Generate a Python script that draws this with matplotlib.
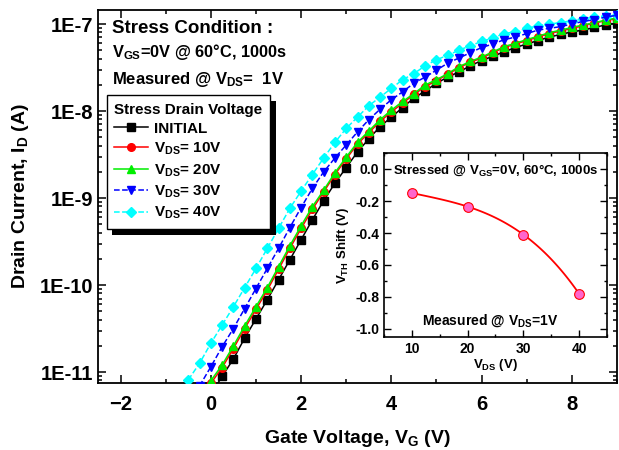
import numpy as np
import matplotlib
matplotlib.use("Agg")
import matplotlib.pyplot as plt
from matplotlib import patheffects
from matplotlib.ticker import FixedLocator, FixedFormatter, LogLocator, NullFormatter, MultipleLocator

plt.rcParams['font.family'] = ['Liberation Sans', 'DejaVu Sans']
plt.rcParams['font.weight'] = 'bold'
plt.rcParams['axes.labelweight'] = 'bold'
plt.rcParams['mathtext.fontset'] = 'custom'
plt.rcParams['mathtext.rm'] = 'Liberation Sans:bold'
plt.rcParams['mathtext.it'] = 'Liberation Sans:bold'
plt.rcParams['mathtext.bf'] = 'Liberation Sans:bold'

# gate sweep, -0.5 V .. 9 V in 0.25 V steps
vg = np.arange(-0.5, 9.01, 0.25)
nan = np.nan

# log10 of drain current
log_init = [nan, nan, -11.26, -11.05, -10.85, -10.61, -10.39, -10.17, -9.94, -9.71,
            -9.48, -9.25, -9.03, -8.83, -8.65, -8.47, -8.32, -8.18, -8.07, -7.96,
            -7.85, -7.77, -7.68, -7.61, -7.55, -7.48, -7.42, -7.37, -7.32, -7.27,
            -7.23, -7.19, -7.15, -7.12, -7.09, -7.07, -7.04, -7.01, -6.99]
log_10v = [nan, -11.35, -11.13, -10.95, -10.73, -10.50, -10.28, -10.06, -9.82, -9.58,
           -9.35, -9.13, -8.93, -8.73, -8.55, -8.38, -8.25, -8.12, -8.01, -7.91,
           -7.81, -7.72, -7.65, -7.58, -7.50, -7.44, -7.39, -7.33, -7.27, -7.23,
           -7.19, -7.15, -7.11, -7.08, -7.05, -7.02, -6.99, -6.96, -6.94]
log_20v = [nan, -11.32, -11.10, -10.92, -10.70, -10.47, -10.25, -10.03, -9.79, -9.55,
           -9.32, -9.10, -8.91, -8.71, -8.53, -8.36, -8.23, -8.10, -7.99, -7.89,
           -7.80, -7.70, -7.64, -7.57, -7.49, -7.43, -7.38, -7.32, -7.26, -7.22,
           -7.18, -7.14, -7.10, -7.07, -7.04, -7.01, -6.985, -6.955, -6.93]
log_30v = [nan, -11.16, -10.94, -10.71, -10.50, -10.27, -10.04, -9.81, -9.58, -9.34,
           -9.11, -8.89, -8.70, -8.54, -8.39, -8.24, -8.10, -7.98, -7.87, -7.78,
           -7.68, -7.61, -7.53, -7.45, -7.39, -7.33, -7.27, -7.23, -7.18, -7.15,
           -7.11, -7.07, -7.05, -7.03, -7.00, -6.97, -6.95, -6.92, -6.90]
log_40v = [-11.09, -10.90, -10.67, -10.46, -10.25, -10.03, -9.81, -9.58, -9.35, -9.12,
           -8.92, -8.73, -8.54, -8.36, -8.20, -8.07, -7.94, -7.84, -7.74, -7.64,
           -7.57, -7.48, -7.41, -7.36, -7.30, -7.25, -7.20, -7.16, -7.11, -7.09,
           -7.05, -7.02, -7.00, -6.985, -6.96, -6.94, -6.92, -6.91, -6.90]

labels = ['INITIAL', r'V$_{DS}$= 10V', r'V$_{DS}$= 20V', r'V$_{DS}$= 30V', r'V$_{DS}$= 40V']
colors = ['black', '#ff0000', '#00ee00', '#0000ff', '#00ffff']
markers = ['s', 'o', '^', 'v', 'D']
styles = ['-', '-', '-', '--', '--']
zorders = [2, 3, 4, 6, 5]

# inset: threshold voltage shift
vds = [10, 20, 30, 40]
vth_shift = [-0.15, -0.235, -0.41, -0.78]

fig = plt.figure(figsize=(6.19, 4.5), dpi=100)
ax = fig.add_axes([98 / 619, 1 - 383 / 450, 519 / 619, 373 / 450])

lines = []
for ys, c, m, ls, z, lab in zip([log_init, log_10v, log_20v, log_30v, log_40v],
                               colors, markers, styles, zorders, labels):
    ln, = ax.plot(vg, 10 ** np.array(ys), color=c, marker=m, linestyle=ls, lw=1.1,
                  markersize=5.5 if m != 'D' else 5, mec=c, mfc=c, zorder=z, label=lab)
    lines.append(ln)

ax.set_yscale('log')
ax.set_xlim(-2.5, 9)
ax.set_ylim(10 ** -11.126, 10 ** -6.839)
ax.yaxis.set_major_locator(FixedLocator([1e-11, 1e-10, 1e-9, 1e-8, 1e-7]))
ax.yaxis.set_major_formatter(FixedFormatter(['1E-11', '1E-10', '1E-9', '1E-8', '1E-7']))
ax.yaxis.set_minor_locator(LogLocator(base=10, subs=np.arange(2, 10)))
ax.yaxis.set_minor_formatter(NullFormatter())
ax.xaxis.set_major_locator(MultipleLocator(2))
ax.xaxis.set_minor_locator(MultipleLocator(1))
ax.tick_params(which='both', direction='in', top=True, right=True, width=1.1, labelsize=14.5)
ax.tick_params(which='major', length=6)
ax.tick_params(which='minor', length=3)
ax.tick_params(axis='x', which='major', pad=9)
for s in ax.spines.values():
    s.set_linewidth(1.3)

ax.set_xlabel(r'Gate Voltage, V$_G$ (V)', fontsize=14, labelpad=10)
ax.set_ylabel(r'Drain Current, I$_D$ (A)', fontsize=14, labelpad=6)

ax.text(0.027, 0.95, 'Stress Condition :', transform=ax.transAxes, fontsize=13.5, va='center')
ax.text(0.027, 0.888, r'V$_{GS}$=0V @ 60°C, 1000s', transform=ax.transAxes, fontsize=11.8, va='center')
ax.text(0.027, 0.813, r'Measured @ V$_{DS}$=  1V', transform=ax.transAxes, fontsize=12, va='center')

leg = ax.legend(handles=lines, loc='upper left', bbox_to_anchor=(0.017, 0.772),
                borderaxespad=0, title='Stress Drain Voltage', fontsize=11,
                title_fontproperties={'weight': 'bold', 'size': 11},
                fancybox=False, edgecolor='black', framealpha=1, handlelength=2.2,
                handletextpad=0.4, labelspacing=0.33, borderpad=0.5)
leg._legend_box.align = 'left'
frame = leg.get_frame()
frame.set_linewidth(1.0)
frame.set_path_effects([patheffects.SimplePatchShadow(offset=(4, -4), shadow_rgbFace='black', alpha=1),
                        patheffects.Normal()])
leg.set_zorder(10)

# inset
ax2 = fig.add_axes([384 / 619, 1 - 337 / 450, 223 / 619, 184 / 450])
ax2.set_zorder(20)
coef = np.polyfit(vds, vth_shift, 3)
xf = np.linspace(vds[0], vds[-1], 100)
ax2.plot(xf, np.polyval(coef, xf), color='#ff0000', lw=1.3)
ax2.plot(vds, vth_shift, 'o', color='#ff0000', mfc='#ff66cc', mec='#ff0000', markersize=7, mew=0.8)
ax2.set_xlim(5, 45)
ax2.set_ylim(-1.05, 0.1)
ax2.xaxis.set_major_locator(MultipleLocator(10))
ax2.xaxis.set_minor_locator(MultipleLocator(5))
ax2.yaxis.set_major_locator(MultipleLocator(0.2))
ax2.yaxis.set_minor_locator(MultipleLocator(0.1))
ax2.yaxis.set_major_formatter(matplotlib.ticker.FormatStrFormatter('%.1f'))
ax2.tick_params(which='both', direction='in', top=True, right=True, width=1, labelsize=10)
ax2.tick_params(which='major', length=5)
ax2.tick_params(which='minor', length=2.5)
for s in ax2.spines.values():
    s.set_linewidth(1.2)
ax2.set_xlabel(r'V$_{DS}$ (V)', fontsize=9.5, labelpad=1)
ax2.set_ylabel(r'V$_{TH}$ Shift (V)', fontsize=9.5, labelpad=3)
ax2.text(0.5, 0.905, r'Stressed @ V$_{GS}$=0V, 60°C, 1000s', transform=ax2.transAxes,
         fontsize=9.5, ha='center', va='center')
ax2.text(0.475, 0.09, r'Measured @ V$_{DS}$=1V', transform=ax2.transAxes,
         fontsize=10, ha='center', va='center')

fig.savefig('out.png', dpi=100)
